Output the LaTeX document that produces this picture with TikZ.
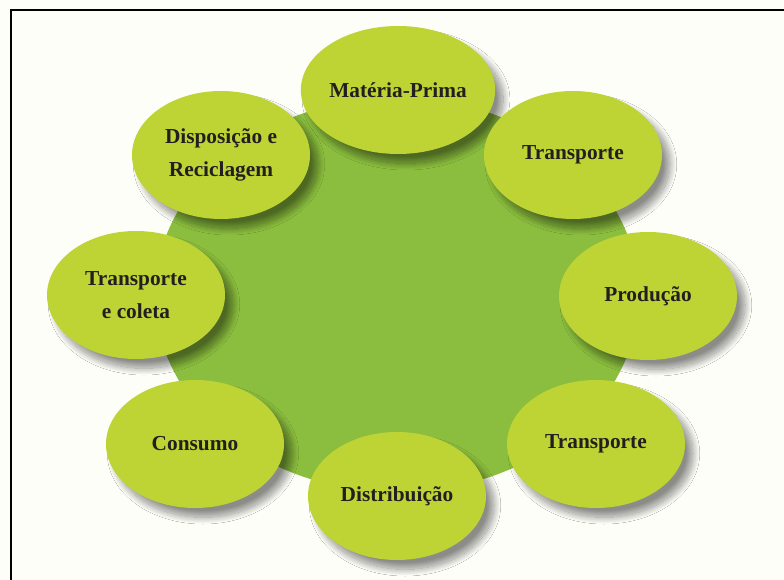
\documentclass[tikz,border=0pt]{standalone}
\usepackage{fontspec}
\setmainfont{Liberation Serif}
\usetikzlibrary{shapes.geometric, shadows.blur}
\definecolor{cicloback}{RGB}{254, 254, 249}
\definecolor{ciclogreen}{RGB}{139, 190, 62}
\definecolor{ciclolime}{RGB}{190, 211, 52}
\definecolor{ciclotext}{RGB}{35, 31, 32}

\tikzset{
    etapa/.style={ellipse, fill=ciclolime, inner sep=0pt,
        minimum width=133.5pt, minimum height=96pt,
        align=center, text=ciclotext,
        font=\bfseries\fontsize{16}{25}\selectfont,
        blur shadow={shadow xshift=6pt, shadow yshift=-7pt,
            shadow blur radius=5pt, shadow blur steps=20,
            shadow opacity=45}},
}

\begin{document}
\begin{tikzpicture}[x=0.75pt, y=-0.75pt]

% fundo e moldura
\useasboundingbox (0,0) rectangle (784,580);
\fill[cicloback] (0,0) rectangle (784,580);
\draw[line width=1.6pt] (784,10) -- (11,10) -- (11,580);

% circulo central
\fill[ciclogreen] (397,295) ellipse [x radius=242, y radius=197];

% etapas do ciclo
\node[etapa] (materia)   at (398,90)  {Matéria-Prima};
\node[etapa] (transp1)   at (573,155) {Transporte};
\node[etapa] (producao)  at (648,296) {Produção};
\node[etapa] (transp2)   at (596,444) {Transporte};
\node[etapa] (distrib)   at (397,496) {Distribuição};
\node[etapa] (consumo)   at (195,444) {Consumo};
\node[etapa] (coleta)    at (136,295) {Transporte\\e coleta};
\node[etapa] (disposicao) at (221,155) {Disposição e\\Reciclagem};

\end{tikzpicture}
\end{document}
